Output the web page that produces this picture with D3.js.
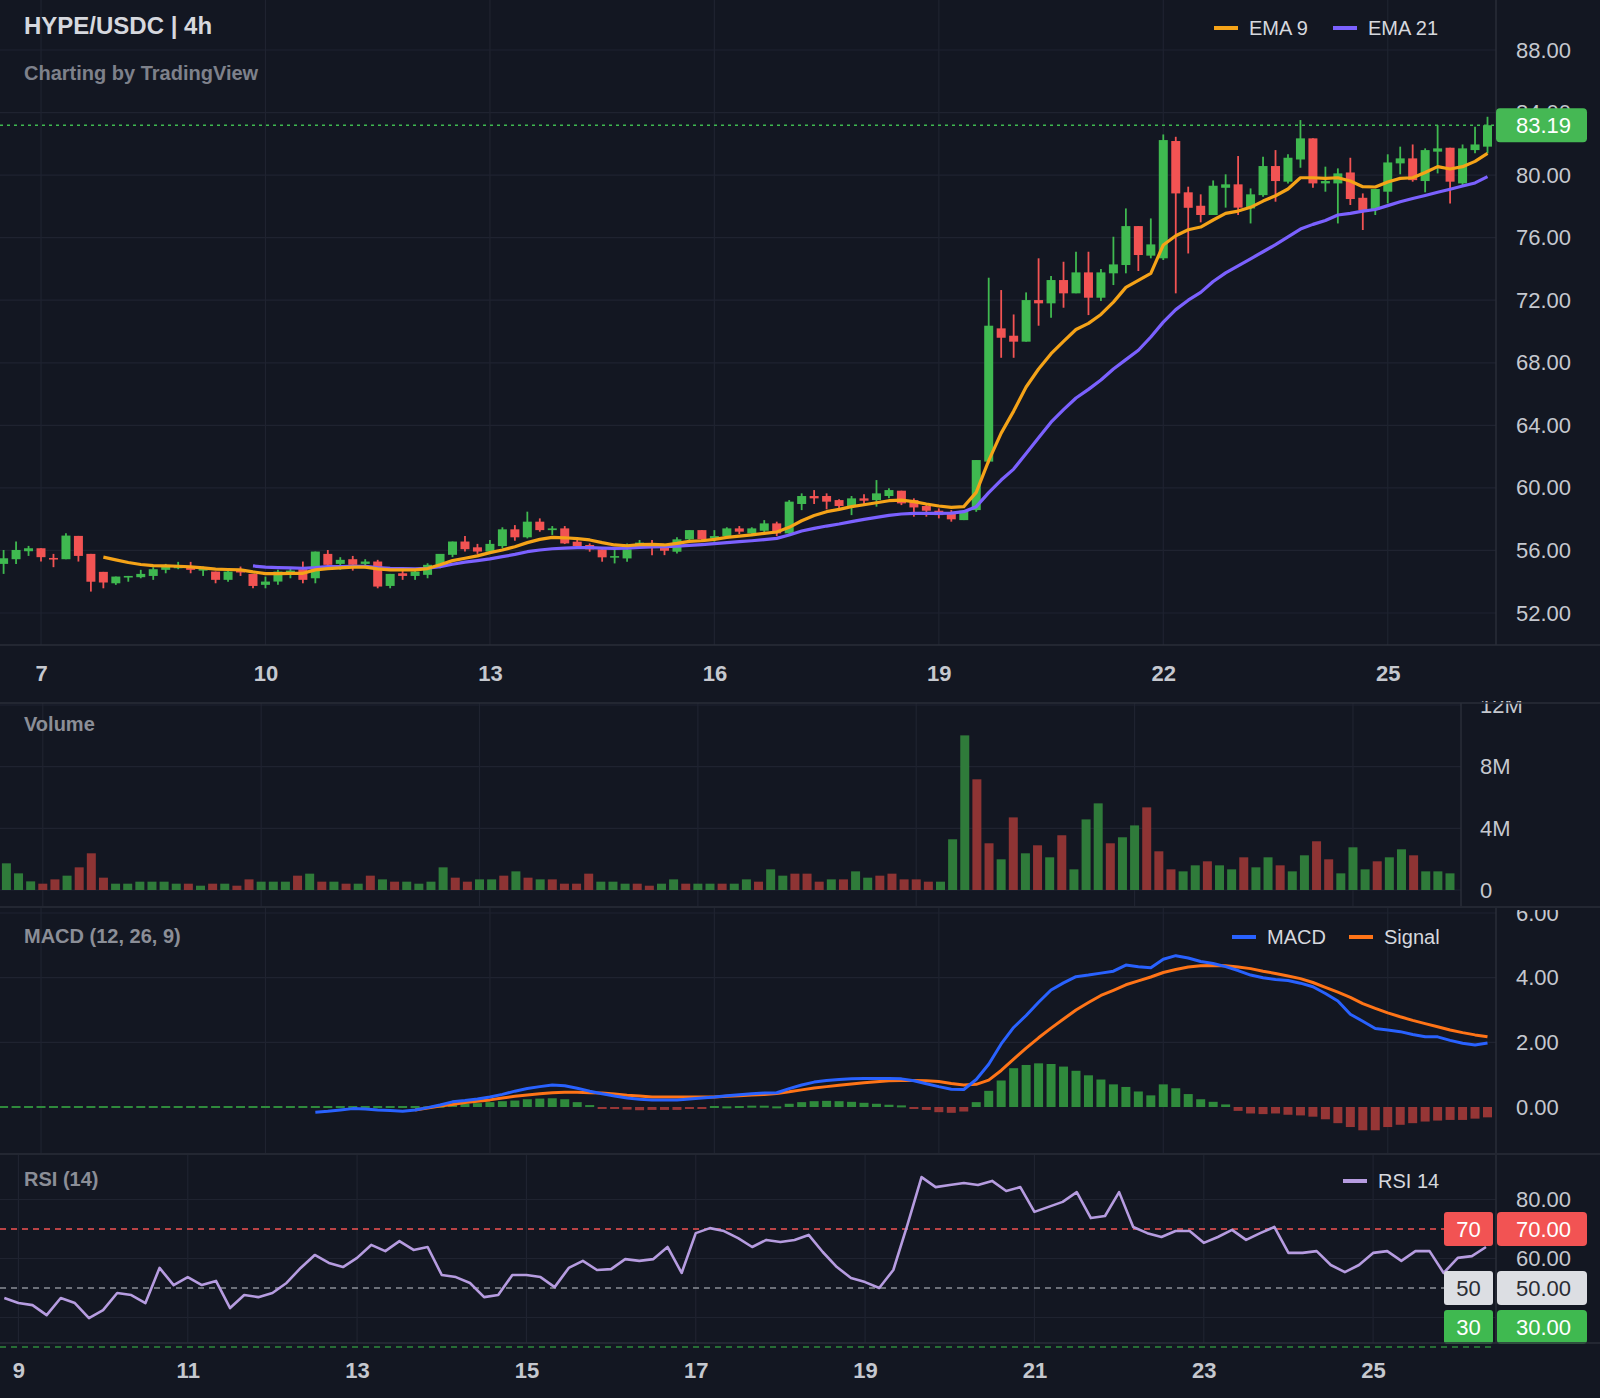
<!DOCTYPE html>
<html><head><meta charset="utf-8">
<script src="https://cdn.jsdelivr.net/npm/d3@7"></script>
<style>html,body{margin:0;padding:0;background:#131722;}svg{display:block;font-family:"Liberation Sans",Arial,sans-serif;}</style>
</head><body><svg id="c" width="1600" height="1398"></svg>
<script>
// ---------------- DATA ----------------
const firstBarDay = 6.5;      // day-of-month of first 4h bar (6th, 12:00)
const barHours = 4;
const openP = [55.14,55.44,55.95,56.14,55.52,55.44,56.93,55.78,54.63,53.9,54.27,54.29,54.37,54.76,54.86,55.0,54.71,54.65,54.12,54.8,54.5,53.8,54.01,54.54,54.8,54.22,55.78,55.14,55.44,55.14,55.29,53.73,54.54,54.37,54.44,55.08,55.72,56.57,56.2,55.93,56.28,57.35,56.84,57.84,57.3,57.41,56.56,56.35,56.07,55.56,55.49,56.35,56.45,56.24,55.92,56.71,57.3,56.77,56.92,57.41,57.09,57.26,57.73,57.09,58.97,59.48,59.48,59.22,58.84,59.33,59.22,59.48,59.82,59.22,58.84,58.54,58.41,57.94,58.58,61.68,70.2,69.73,69.35,72.01,71.8,73.29,72.44,73.78,72.16,73.72,74.25,76.74,74.85,74.68,82.18,78.9,78.04,77.45,79.19,79.41,77.87,78.72,80.58,79.58,81.0,82.35,79.47,79.47,80.17,78.55,77.77,78.94,80.75,81.07,79.62,81.5,81.75,79.47,81.6,81.82];
const highP = [56.03,56.57,56.29,56.14,55.78,57.1,56.93,55.78,54.63,54.33,54.37,54.76,54.93,55.14,55.27,55.27,54.97,54.65,54.76,54.97,54.5,54.33,54.76,54.84,55.29,55.93,56.03,55.57,55.65,55.44,55.4,54.5,54.76,54.8,55.18,55.78,56.57,56.93,56.42,56.67,57.48,57.62,58.48,58.05,57.56,57.56,56.77,56.45,56.13,56.03,56.45,56.67,56.67,56.35,56.84,57.3,57.3,57.3,57.48,57.56,57.48,57.94,57.84,59.22,59.65,59.86,59.65,59.27,59.48,59.6,60.5,59.97,59.82,59.33,58.97,58.69,58.58,58.58,61.78,73.44,72.65,71.09,72.5,74.68,73.55,74.46,75.1,75.1,73.99,76.06,77.87,76.74,77.23,82.6,82.45,79.26,78.77,79.66,80.05,81.22,79.15,81.18,81.6,81.33,83.52,82.35,80.54,80.43,81.11,78.83,79.11,81.33,81.82,81.96,81.71,83.2,81.75,81.96,83.09,83.73];
const lowP = [54.5,55.14,55.65,55.29,54.93,55.44,55.29,53.37,53.58,53.8,54.0,54.22,54.12,54.54,54.8,54.54,54.37,53.9,54.0,54.37,53.58,53.58,53.8,54.22,53.9,53.9,54.97,54.76,54.71,54.86,53.58,53.58,54.12,54.12,54.22,54.86,55.57,55.93,55.78,55.82,56.13,56.62,56.77,57.2,56.99,56.41,56.2,55.92,55.28,55.17,55.28,56.13,55.7,55.7,55.81,56.56,56.56,56.56,56.77,57.05,56.92,57.09,56.92,56.99,58.58,58.97,58.63,58.69,58.26,58.84,58.8,59.33,58.9,58.16,58.16,58.05,57.84,57.94,58.47,61.57,68.32,68.32,69.35,70.37,70.88,71.52,72.44,71.05,71.95,72.97,73.72,73.87,74.68,74.57,72.44,74.99,76.98,77.45,77.92,77.45,76.91,78.62,78.3,79.47,80.47,79.19,78.94,76.91,78.09,76.49,77.45,78.19,80.05,79.58,78.9,80.11,78.19,79.32,81.39,81.39];
const closeP = [55.5,56.03,56.14,55.57,55.44,56.95,55.65,54.0,53.95,54.33,54.37,54.5,54.8,54.97,55.0,54.76,54.86,54.12,54.65,54.59,53.73,54.01,54.65,54.71,54.12,55.93,55.08,55.4,55.08,55.29,53.69,54.5,54.37,54.65,55.08,55.78,56.57,56.08,55.93,56.42,57.35,56.84,57.84,57.3,57.41,56.45,56.28,56.07,55.56,55.64,56.07,56.5,56.35,55.98,56.71,57.3,56.71,56.92,57.41,57.2,57.41,57.73,57.09,59.12,59.48,59.33,59.12,58.84,59.33,59.18,59.65,59.86,59.01,58.75,58.54,58.26,57.99,58.54,61.78,70.37,69.6,69.35,72.01,71.8,73.29,72.44,73.78,72.16,73.78,74.29,76.74,74.89,75.57,82.24,78.83,77.91,77.45,79.32,79.41,77.92,78.77,80.58,79.62,81.11,82.35,79.47,79.62,80.11,78.47,77.77,79.11,80.81,81.07,79.68,81.6,81.71,79.58,81.71,81.96,83.19];
const volumeM = [1.73,1.08,0.56,0.41,0.69,0.93,1.47,2.38,0.8,0.41,0.41,0.54,0.54,0.54,0.41,0.41,0.28,0.41,0.41,0.28,0.69,0.54,0.54,0.54,0.93,1.06,0.54,0.54,0.41,0.41,0.93,0.69,0.54,0.54,0.41,0.54,1.47,0.8,0.54,0.69,0.69,0.93,1.21,0.8,0.69,0.69,0.41,0.41,1.06,0.54,0.54,0.41,0.41,0.28,0.41,0.69,0.41,0.41,0.41,0.41,0.41,0.69,0.54,1.34,0.93,1.06,1.06,0.54,0.69,0.69,1.21,0.8,0.93,1.06,0.69,0.69,0.54,0.54,3.29,10.03,7.18,3.03,1.99,4.71,2.38,2.9,2.12,3.55,1.34,4.58,5.62,3.03,3.42,4.19,5.36,2.51,1.34,1.21,1.6,1.86,1.6,1.34,2.12,1.47,2.12,1.6,1.21,2.25,3.16,1.99,1.08,2.77,1.34,1.86,2.12,2.64,2.25,1.21,1.21,1.08];
const N = null;
const ema9 = [N,N,N,N,N,N,N,N,55.57,55.4,55.23,55.1,55.03,55.01,54.99,54.95,54.88,54.8,54.78,54.76,54.63,54.52,54.52,54.54,54.54,54.76,54.84,54.88,54.93,54.93,54.82,54.76,54.76,54.76,54.84,55.08,55.35,55.5,55.65,55.86,56.03,56.24,56.5,56.71,56.84,56.81,56.75,56.67,56.5,56.35,56.3,56.37,56.39,56.35,56.45,56.58,56.62,56.71,56.84,56.92,56.99,57.09,57.18,57.48,57.9,58.24,58.48,58.63,58.8,58.92,59.05,59.18,59.22,59.12,58.97,58.84,58.75,58.8,59.71,61.74,63.5,64.91,66.45,67.6,68.58,69.37,70.13,70.52,71.09,71.88,72.82,73.27,73.72,75.53,76.12,76.51,76.68,77.13,77.55,77.7,77.94,78.34,78.68,79.11,79.83,79.83,79.79,79.83,79.62,79.26,79.24,79.56,79.79,79.83,80.17,80.54,80.39,80.54,80.88,81.39];
const ema21 = [N,N,N,N,N,N,N,N,N,N,N,N,N,N,N,N,N,N,N,N,55.01,54.93,54.9,54.88,54.86,54.9,54.97,54.97,54.99,54.99,54.9,54.86,54.84,54.82,54.86,54.97,55.12,55.25,55.35,55.46,55.6,55.75,55.92,56.03,56.11,56.15,56.18,56.18,56.15,56.13,56.15,56.2,56.22,56.24,56.28,56.32,56.37,56.43,56.5,56.56,56.62,56.69,56.77,56.99,57.24,57.41,57.56,57.69,57.84,57.99,58.11,58.24,58.33,58.37,58.37,58.37,58.39,58.48,58.8,59.7,60.5,61.2,62.2,63.2,64.2,65.0,65.75,66.3,66.9,67.6,68.2,68.8,69.65,70.6,71.4,72.0,72.5,73.2,73.75,74.2,74.65,75.1,75.55,76.05,76.55,76.85,77.1,77.45,77.55,77.7,77.8,78.05,78.3,78.5,78.7,78.9,79.1,79.3,79.5,79.9];
const macdLine = [N,N,N,N,N,N,N,N,N,N,N,N,N,N,N,N,N,N,N,N,N,N,N,N,N,-0.16,-0.13,-0.09,-0.05,-0.06,-0.09,-0.11,-0.13,-0.09,-0.02,0.06,0.16,0.2,0.25,0.31,0.39,0.49,0.57,0.63,0.68,0.66,0.58,0.49,0.41,0.34,0.28,0.24,0.22,0.22,0.22,0.25,0.28,0.31,0.35,0.38,0.41,0.43,0.44,0.57,0.68,0.77,0.82,0.85,0.87,0.88,0.88,0.88,0.87,0.81,0.72,0.63,0.55,0.54,0.85,1.32,1.95,2.46,2.83,3.24,3.62,3.84,4.03,4.08,4.14,4.2,4.39,4.34,4.31,4.57,4.68,4.61,4.5,4.44,4.34,4.22,4.08,4.0,3.94,3.91,3.83,3.72,3.51,3.28,2.87,2.65,2.43,2.38,2.33,2.24,2.17,2.17,2.06,1.97,1.92,1.98];
const signalLine = [N,N,N,N,N,N,N,N,N,N,N,N,N,N,N,N,N,N,N,N,N,N,N,N,N,N,N,N,N,N,N,N,N,-0.09,-0.03,0.03,0.08,0.14,0.18,0.22,0.28,0.33,0.37,0.41,0.44,0.46,0.46,0.44,0.43,0.4,0.36,0.34,0.31,0.31,0.31,0.31,0.31,0.31,0.33,0.35,0.37,0.39,0.42,0.47,0.53,0.59,0.63,0.67,0.71,0.75,0.78,0.81,0.82,0.82,0.81,0.79,0.73,0.68,0.7,0.83,1.13,1.48,1.82,2.14,2.44,2.72,3.0,3.23,3.45,3.61,3.78,3.9,4.02,4.16,4.25,4.33,4.37,4.38,4.37,4.33,4.28,4.2,4.13,4.05,3.97,3.85,3.7,3.55,3.39,3.2,3.05,2.91,2.79,2.68,2.58,2.48,2.38,2.3,2.23,2.17];
const macdHist = [0,0,0,0,0,0,0,0,0,0,0,0,0,0,0,0,0,0,0,0,0,0,0,0,0,0,0,0,0,0,0,0,0,0,0.02,0.04,0.08,0.1,0.12,0.15,0.18,0.2,0.24,0.26,0.27,0.24,0.15,0.06,-0.02,-0.06,-0.08,-0.1,-0.09,-0.09,-0.09,-0.06,-0.03,0,0.02,0.03,0.04,0.04,0.02,0.1,0.15,0.18,0.19,0.18,0.16,0.13,0.1,0.07,0.05,-0.01,-0.09,-0.16,-0.18,-0.14,0.15,0.5,0.82,1.2,1.3,1.35,1.33,1.25,1.12,0.98,0.85,0.7,0.62,0.48,0.36,0.7,0.58,0.4,0.24,0.16,0.08,-0.12,-0.2,-0.22,-0.2,-0.24,-0.26,-0.3,-0.38,-0.5,-0.62,-0.72,-0.72,-0.62,-0.55,-0.5,-0.45,-0.42,-0.4,-0.4,-0.36,-0.32];
const rsiStart = 14;
const rsi14 = [46.6,44.9,44.2,40.8,46.6,44.9,39.8,42.5,48.3,47.6,44.9,56.8,51.0,53.7,51.0,52.4,43.2,47.6,46.9,48.3,51.7,56.8,61.2,58.5,57.1,60.2,64.6,62.5,65.9,62.9,63.9,54.4,53.7,51.7,46.9,47.6,54.4,54.4,53.7,50.3,56.8,59.2,56.1,56.4,59.8,59.2,59.8,63.9,55.1,68.6,70.3,69.3,66.9,63.9,66.3,65.6,66.3,68.0,62.2,57.1,53.4,52.0,50.0,56.1,71.4,87.6,84.2,84.9,85.6,84.9,86.3,82.9,84.2,75.8,77.5,79.2,82.5,73.7,74.4,82.5,70.7,68.6,67.3,69.3,69.3,65.3,67.3,69.7,66.3,68.6,70.7,61.9,61.9,62.5,57.8,55.4,57.8,61.9,62.5,59.2,62.5,62.5,55.1,60.2,60.8,63.9];
const lastPrice = 83.19;
const priceTicks = [88,84,80,76,72,68,64,60,56,52];
const mainDayTicks = [7,10,13,16,19,22,25];
const volumeTicks = [0,4,8,12];
const macdTicks = [0,2,4,6];
const rsiGridTicks = [80,60,40];
const rsiLevels = [70,50,30];
const rsiDayTicks = [9,11,13,15,17,19,21,23,25];

// ---------------- STYLE ----------------
const W=1600,H=1398;
const BG='#131722', GRID='#1f2330', SEP='#2a2e39', TXT='#c5c8cf', DIM='#8b8e97';
const UP='#3fb950', DOWN='#f25353', VUP='#2f7b3a', VDOWN='#8e3434';
const HUP='#2f8a3c', HDOWN='#963636';
const svg=d3.select('#c');
svg.append('rect').attr('width',W).attr('height',H).attr('fill',BG);

const nBars=closeP.length;
const barDay=d3.range(nBars).map(i=>firstBarDay+i*barHours/24);
const defs=svg.append('defs');
function clip(id,x,y,w,h){defs.append('clipPath').attr('id',id).append('rect').attr('x',x).attr('y',y).attr('width',w).attr('height',h);}

// panel geometry
const P={main:{t:0,b:645,r:1496},vol:{t:703,b:906,r:1461},macd:{t:908,b:1153,r:1496},rsi:{t:1155,b:1343,r:1496}};
clip('cMain',0,0,P.main.r,P.main.b);
clip('cVol',0,P.vol.t,P.vol.r,P.vol.b-P.vol.t);
clip('cMacd',0,P.macd.t,P.macd.r,P.macd.b-P.macd.t);
clip('cRsi',0,P.rsi.t,P.rsi.r,P.rsi.b-P.rsi.t+6);
clip('cVolAx',P.vol.r,701,140,210);
clip('cMacdAx',P.macd.r,P.macd.t+2,140,P.macd.b-P.macd.t);

// scales
const xMain=d3.scaleLinear().domain([barDay[0],barDay[nBars-1]]).range([3.6,1487.5]);
const yMain=d3.scaleLinear().domain([52,88]).range([613,50]);
const xVol=d3.scaleLinear().domain([barDay[0],barDay[nBars-1]]).range([6.4,1450]);
const yVol=d3.scaleLinear().domain([0,12]).range([890,705]);
const xMacd=xMain;
const yMacd=d3.scaleLinear().domain([0,6]).range([1107,913]);
const xRsi=d3.scaleLinear().domain([barDay[rsiStart],barDay[nBars-1]]).range([4.3,1486]);
const yRsi=d3.scaleLinear().domain([30,70]).range([1347,1229]);

function hgrid(g,ticks,scale,x2){g.selectAll(null).data(ticks).join('line').attr('x1',0).attr('x2',x2).attr('y1',d=>scale(d)).attr('y2',d=>scale(d)).attr('stroke',GRID).attr('stroke-width',1.2);}
function vgrid(g,ticks,scale,y1,y2){g.selectAll(null).data(ticks).join('line').attr('x1',d=>scale(d)).attr('x2',d=>scale(d)).attr('y1',y1).attr('y2',y2).attr('stroke',GRID).attr('stroke-width',1.2);}

// ---------- MAIN ----------
const gm=svg.append('g');
hgrid(gm,priceTicks,yMain,P.main.r);
vgrid(gm,mainDayTicks,xMain,0,P.main.b);
const gmc=gm.append('g').attr('clip-path','url(#cMain)');
gmc.append('line').attr('x1',0).attr('x2',P.main.r).attr('y1',yMain(lastPrice)).attr('y2',yMain(lastPrice)).attr('stroke',UP).attr('stroke-width',1.6).attr('stroke-dasharray','3,4');
const cd=d3.range(nBars);
gmc.selectAll('.wick').data(cd).join('line').attr('x1',i=>xMain(barDay[i])).attr('x2',i=>xMain(barDay[i])).attr('y1',i=>yMain(highP[i])).attr('y2',i=>yMain(lowP[i])).attr('stroke',i=>closeP[i]>=openP[i]?UP:DOWN).attr('stroke-width',1.8);
gmc.selectAll('.body').data(cd).join('rect').attr('x',i=>xMain(barDay[i])-4.5).attr('width',9).attr('y',i=>yMain(Math.max(openP[i],closeP[i]))).attr('height',i=>Math.max(1.6,Math.abs(yMain(openP[i])-yMain(closeP[i])))).attr('fill',i=>closeP[i]>=openP[i]?UP:DOWN);
function lineOf(xs,ys,arr){return d3.line().defined(d=>d!=null).x((d,i)=>xs(barDay[i])).y(d=>ys(d)).curve(d3.curveLinear)(arr);}
gmc.append('path').attr('d',lineOf(xMain,yMain,ema21)).attr('fill','none').attr('stroke','#7b61ff').attr('stroke-width',3.2).attr('stroke-linejoin','round');
gmc.append('path').attr('d',lineOf(xMain,yMain,ema9)).attr('fill','none').attr('stroke','#f5a318').attr('stroke-width',3.2).attr('stroke-linejoin','round');
// price axis
gm.append('line').attr('x1',P.main.r).attr('x2',P.main.r).attr('y1',0).attr('y2',P.main.b).attr('stroke',SEP).attr('stroke-width',1.5);
const pax=gm.append('g').attr('transform',`translate(${P.main.r},0)`).call(d3.axisRight(yMain).tickValues(priceTicks).tickFormat(d3.format('.2f')).tickSize(0).tickPadding(20));
pax.select('.domain').remove();
pax.selectAll('text').attr('fill',TXT).attr('font-size',22).attr('font-family','Liberation Sans, Arial');
gm.append('rect').attr('x',P.main.r).attr('y',yMain(lastPrice)-17).attr('width',91).attr('height',34).attr('rx',4).attr('fill','#45b854');
gm.append('text').attr('x',P.main.r+20).attr('y',yMain(lastPrice)).attr('dy','0.36em').attr('fill','#ffffff').attr('font-size',22).text(d3.format('.2f')(lastPrice));
// time axis
const tax=gm.append('g').attr('transform',`translate(0,${P.main.b})`).call(d3.axisBottom(xMain).tickValues(mainDayTicks).tickFormat(d=>d).tickSize(0).tickPadding(20));
tax.select('.domain').remove();
tax.selectAll('text').attr('fill',TXT).attr('font-size',22).attr('font-weight','bold');
// title + legend
svg.append('text').attr('x',24).attr('y',34).attr('fill','#d6d8de').attr('font-size',24).attr('font-weight','bold').text('HYPE/USDC | 4h');
svg.append('text').attr('x',24).attr('y',80).attr('fill','#7e818b').attr('font-size',20).attr('font-weight','bold').text('Charting by TradingView');
function legend(x,y,color,label){svg.append('line').attr('x1',x).attr('x2',x+24).attr('y1',y).attr('y2',y).attr('stroke',color).attr('stroke-width',4);svg.append('text').attr('x',x+35).attr('y',y+7).attr('fill','#d6d8de').attr('font-size',20).text(label);}
legend(1214,28,'#f5a318','EMA 9');legend(1333,28,'#7b61ff','EMA 21');

// ---------- VOLUME ----------
const gv=svg.append('g');
hgrid(gv,volumeTicks,yVol,P.vol.r);
vgrid(gv,mainDayTicks,xVol,P.vol.t,P.vol.b);
gv.append('g').attr('clip-path','url(#cVol)').selectAll('rect').data(cd).join('rect').attr('x',i=>xVol(barDay[i])-4.5).attr('width',9).attr('y',i=>yVol(volumeM[i])).attr('height',i=>yVol(0)-yVol(volumeM[i])).attr('fill',i=>closeP[i]>=openP[i]?VUP:VDOWN);
gv.append('line').attr('x1',P.vol.r).attr('x2',P.vol.r).attr('y1',P.vol.t).attr('y2',P.vol.b).attr('stroke',SEP).attr('stroke-width',1.5);
const vax=gv.append('g').attr('clip-path','url(#cVolAx)').append('g').attr('transform',`translate(${P.vol.r},0)`).call(d3.axisRight(yVol).tickValues(volumeTicks).tickFormat(d=>d===0?'0':d+'M').tickSize(0).tickPadding(19));
vax.select('.domain').remove();
vax.selectAll('text').attr('fill',TXT).attr('font-size',22);
svg.append('text').attr('x',24).attr('y',731).attr('fill',DIM).attr('font-size',20).attr('font-weight','bold').text('Volume');

// ---------- MACD ----------
const gd=svg.append('g');
hgrid(gd,macdTicks.filter(d=>d!==0),yMacd,P.macd.r);
vgrid(gd,mainDayTicks,xMacd,P.macd.t,P.macd.b);
const gdc=gd.append('g').attr('clip-path','url(#cMacd)');
gdc.selectAll('rect').data(cd).join('rect').attr('x',i=>xMacd(barDay[i])-4.5).attr('width',9)
 .attr('y',i=>macdHist[i]>=0?yMacd(macdHist[i])-(macdHist[i]===0?1:0):yMacd(0))
 .attr('height',i=>Math.max(2,Math.abs(yMacd(macdHist[i])-yMacd(0))))
 .attr('fill',i=>macdHist[i]>=0?HUP:HDOWN);
gdc.append('path').attr('d',lineOf(xMacd,yMacd,signalLine)).attr('fill','none').attr('stroke','#ff7417').attr('stroke-width',3).attr('stroke-linejoin','round');
gdc.append('path').attr('d',lineOf(xMacd,yMacd,macdLine)).attr('fill','none').attr('stroke','#2962ff').attr('stroke-width',3).attr('stroke-linejoin','round');
gd.append('line').attr('x1',P.macd.r).attr('x2',P.macd.r).attr('y1',P.macd.t).attr('y2',P.macd.b).attr('stroke',SEP).attr('stroke-width',1.5);
const max_=gd.append('g').attr('clip-path','url(#cMacdAx)').append('g').attr('transform',`translate(${P.macd.r},0)`).call(d3.axisRight(yMacd).tickValues(macdTicks).tickFormat(d3.format('.2f')).tickSize(0).tickPadding(20));
max_.select('.domain').remove();
max_.selectAll('text').attr('fill',TXT).attr('font-size',22);
svg.append('text').attr('x',24).attr('y',943).attr('fill',DIM).attr('font-size',20).attr('font-weight','bold').text('MACD (12, 26, 9)');
legend(1232,937,'#2962ff','MACD');legend(1349,937,'#ff7417','Signal');

// ---------- RSI ----------
const gr=svg.append('g');
hgrid(gr,rsiGridTicks,yRsi,P.rsi.r);
vgrid(gr,rsiDayTicks,xRsi,P.rsi.t,P.rsi.b);
const grc=gr.append('g').attr('clip-path','url(#cRsi)');
const lvlColor={70:'#f25353',50:'#8b8e97',30:'#2f8a3c'};
grc.selectAll('.lvl').data(rsiLevels).join('line').attr('x1',0).attr('x2',P.rsi.r).attr('y1',d=>yRsi(d)).attr('y2',d=>yRsi(d)).attr('stroke',d=>lvlColor[d]).attr('stroke-width',1.3).attr('stroke-dasharray','6,5');
grc.append('path').attr('d',d3.line().x((d,k)=>xRsi(barDay[k+rsiStart])).y(d=>yRsi(d))(rsi14)).attr('fill','none').attr('stroke','#b69ce0').attr('stroke-width',2.6).attr('stroke-linejoin','round');
gr.append('line').attr('x1',P.rsi.r).attr('x2',P.rsi.r).attr('y1',P.rsi.t).attr('y2',P.rsi.b).attr('stroke',SEP).attr('stroke-width',1.5);
const rax=gr.append('g').attr('transform',`translate(${P.rsi.r},0)`).call(d3.axisRight(yRsi).tickValues(rsiGridTicks).tickFormat(d3.format('.2f')).tickSize(0).tickPadding(20));
rax.select('.domain').remove();
rax.selectAll('text').attr('fill',TXT).attr('font-size',22);
const boxStyle={70:{f:'#f25353',t:'#ffffff'},50:{f:'#dcdee3',t:'#2a2c33'},30:{f:'#3fb950',t:'#ffffff'}};
rsiLevels.forEach(v=>{
  let cy=Math.min(yRsi(v),P.rsi.b-16);
  const s=boxStyle[v];
  gr.append('rect').attr('x',1444).attr('y',cy-17).attr('width',49).attr('height',34).attr('rx',3).attr('fill',s.f);
  gr.append('text').attr('x',1468.5).attr('y',cy).attr('dy','0.36em').attr('text-anchor','middle').attr('fill',s.t).attr('font-size',22).text(v);
  gr.append('rect').attr('x',P.rsi.r+1).attr('y',cy-17).attr('width',90).attr('height',34).attr('rx',4).attr('fill',s.f);
  gr.append('text').attr('x',P.rsi.r+20).attr('y',cy).attr('dy','0.36em').attr('fill',s.t).attr('font-size',22).text(d3.format('.2f')(v));
});
svg.append('text').attr('x',24).attr('y',1186).attr('fill',DIM).attr('font-size',20).attr('font-weight','bold').text('RSI (14)');
legend(1343,1181,'#b69ce0','RSI 14');
const rtax=gr.append('g').attr('transform',`translate(0,${P.rsi.b})`).call(d3.axisBottom(xRsi).tickValues(rsiDayTicks).tickFormat(d=>d).tickSize(0).tickPadding(19));
rtax.select('.domain').remove();
rtax.selectAll('text').attr('fill',TXT).attr('font-size',22).attr('font-weight','bold');

// separators
[P.main.b,P.vol.t,P.macd.t-1,P.rsi.t-1,P.rsi.b].forEach(y=>svg.append('line').attr('x1',0).attr('x2',W).attr('y1',y).attr('y2',y).attr('stroke',SEP).attr('stroke-width',1.5));
</script></body></html>
